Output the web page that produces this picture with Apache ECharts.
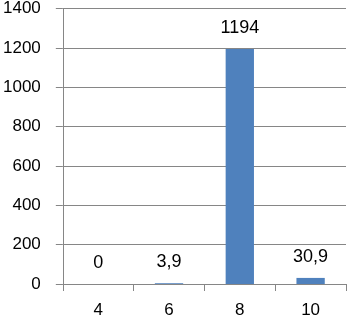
<!DOCTYPE html>
<html><head><meta charset="utf-8">
<script src="https://cdn.jsdelivr.net/npm/echarts@6/dist/echarts.min.js"></script>
<style>html,body{margin:0;padding:0;background:#fff}#c{width:347px;height:324px}</style>
</head><body><div id="c"></div>
<script>
var categories = ['4', '6', '8', '10'];
var values = [0, 3.9, 1194, 30.9];
var yTicks = { min: 0, max: 1400, interval: 200 };

var chart = echarts.init(document.getElementById('c'), null, { renderer: 'canvas' });
var font = 'Liberation Sans, Arial, sans-serif';
chart.setOption({
  animation: false,
  grid: { left: 60, right: 1, top: 7, bottom: 40, containLabel: false },
  xAxis: {
    type: 'category',
    data: categories,
    boundaryGap: true,
    axisLine: { show: true, lineStyle: { color: '#868686', width: 1 } },
    axisTick: { show: true, length: 7, lineStyle: { color: '#868686' } },
    axisLabel: { color: '#000', fontSize: 17, fontFamily: font, margin: 18 }
  },
  yAxis: {
    type: 'value',
    min: yTicks.min, max: yTicks.max, interval: yTicks.interval,
    axisLine: { show: true, lineStyle: { color: '#868686', width: 1 } },
    axisTick: { show: true, length: 7, lineStyle: { color: '#868686' } },
    splitLine: { show: true, lineStyle: { color: '#868686', width: 1 } },
    axisLabel: { color: '#000', fontSize: 17, fontFamily: font, margin: 22,
      formatter: function (v) { return String(v); } }
  },
  series: [{
    type: 'bar',
    data: values,
    barWidth: '40%',
    itemStyle: { color: '#4F81BD' },
    label: {
      show: true, position: 'top', distance: 12,
      color: '#000', fontSize: 18, fontFamily: font,
      formatter: function (p) { return String(p.value).replace('.', ','); }
    }
  }]
});
</script></body></html>
